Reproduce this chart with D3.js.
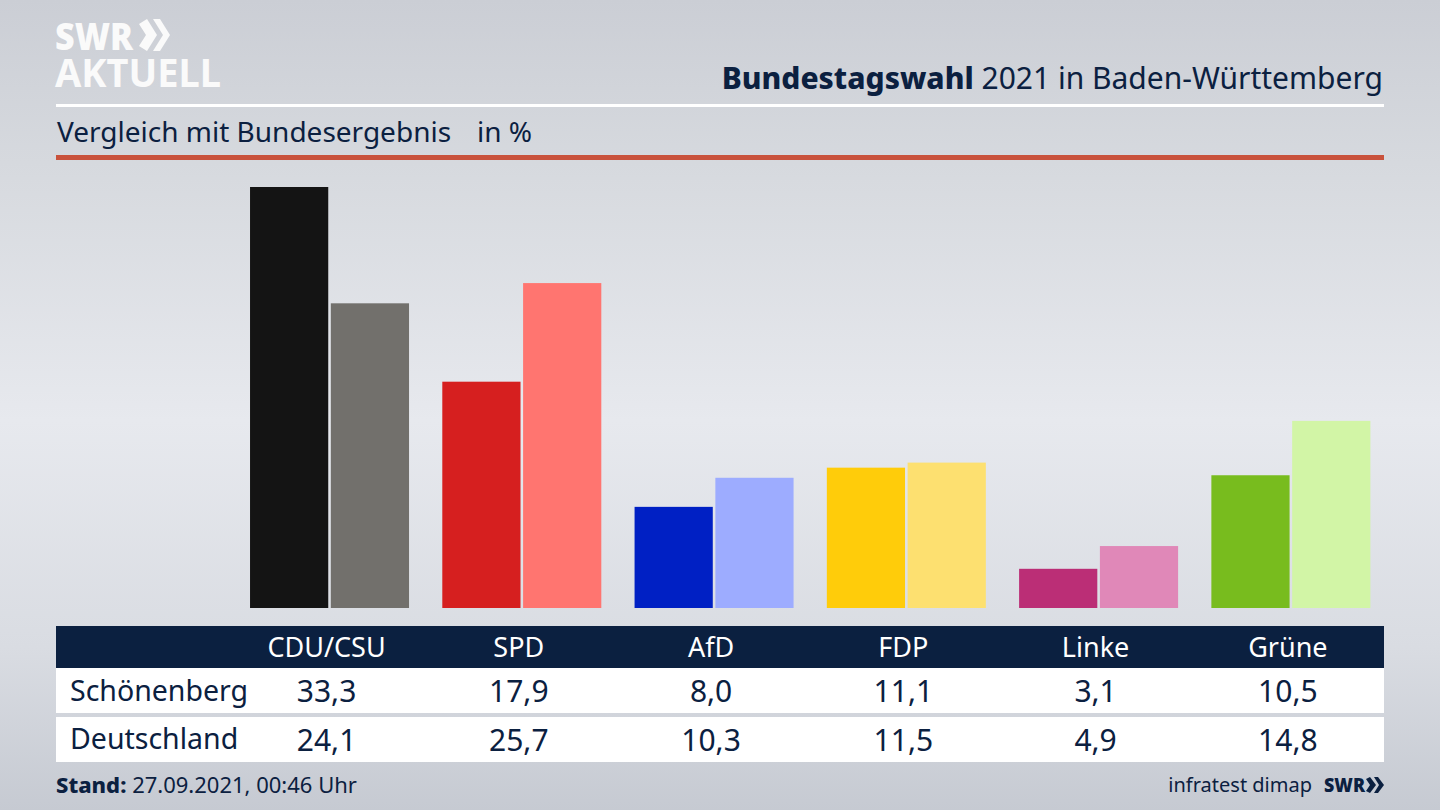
<!DOCTYPE html>
<html><head><meta charset="utf-8">
<script src="https://cdnjs.cloudflare.com/ajax/libs/d3/7.8.5/d3.min.js"></script>
<style>html,body{margin:0;padding:0;overflow:hidden;background:#d8dbe0}svg{display:block}text{font-family:"Noto Sans","Open Sans",sans-serif;fill:#0b2040}</style>
</head><body><svg id="c" width="1440" height="810"></svg>
<script>
const parties=["CDU/CSU","SPD","AfD","FDP","Linke","Grüne"];
const regions=["Schönenberg","Deutschland"];
const schoenenberg=[33.3,17.9,8.0,11.1,3.1,10.5];
const deutschland=[24.1,25.7,10.3,11.5,4.9,14.8];
const colorsLocal=["#141414","#d61f1f","#0020c4","#ffcc0a","#bb2e76","#78bc1e"];
const colorsNational=["#72706c","#ff7570","#9dacff","#fde070","#e088b8","#d2f5a6"];
const fmt=v=>v.toFixed(1).replace(".",",");
const NAVY="#0b2040";
const svg=d3.select("#c");
const defs=svg.append("defs");
const g=defs.append("linearGradient").attr("id","bg").attr("x1",0).attr("y1",0).attr("x2",0).attr("y2",1);
[[0,"#cbced5"],[0.2,"#d6d9de"],[0.52,"#e7e9ee"],[0.8,"#d9dce2"],[1,"#c6cad2"]].forEach(d=>g.append("stop").attr("offset",d[0]).attr("stop-color",d[1]));
svg.append("rect").attr("width",1440).attr("height",810).attr("fill","url(#bg)");

// logo
const logo=svg.append("g");
logo.append("text").attr("x",55).attr("y",50).attr("font-size",37).attr("font-weight",900).style("fill","#fafafa").attr("textLength",78).attr("lengthAdjust","spacingAndGlyphs").text("SWR");
const chev=(x,y,h,w,t)=>`M${x},${y}L${x+t},${y}L${x+t+w},${y+h/2}L${x+t},${y+h}L${x},${y+h}L${x+w},${y+h/2}Z`;
logo.append("path").attr("fill","#fafafa").attr("d",chev(138,19,33,16,-0)+"");
logo.append("path").attr("fill","#fafafa").attr("d",`M139,24L147,19L157,35L147,51L139,46L146,35ZM153,19L160,19L170,35L160,51L153,51L163,35Z`);
logo.selectAll("path").filter((d,i)=>i===0).remove();
logo.append("text").attr("x",55).attr("y",87).attr("font-size",39).attr("font-weight",700).style("fill","#fafafa").attr("textLength",166).attr("lengthAdjust","spacingAndGlyphs").text("AKTUELL");

// header
const title=svg.append("text").attr("x",1383).attr("y",89).attr("text-anchor","end").attr("font-size",30);
title.append("tspan").attr("font-weight",800).text("Bundestagswahl");
title.append("tspan").text(" 2021 in Baden-Württemberg");
svg.append("rect").attr("x",56).attr("y",104).attr("width",1328).attr("height",3).attr("fill","#fff");
const sub=svg.append("text").attr("x",57).attr("y",142).attr("font-size",28);
sub.append("tspan").text("Vergleich mit Bundesergebnis");
sub.append("tspan").attr("x",477).text("in %");
svg.append("rect").attr("x",56).attr("y",155).attr("width",1328).attr("height",5).attr("fill","#c9523c");

// scales
const x0=d3.scaleBand().domain(parties).range([233.4,1387]);
const x1=d3.scaleBand().domain([0,1]).range([-79.5,79.5]).paddingInner(0.032);
const y=d3.scaleLinear().domain([0,33.3]).range([608,187]);
const groups=svg.append("g").selectAll("g").data(parties).join("g").attr("transform",d=>`translate(${x0(d)+x0.bandwidth()/2},0)`);
groups.selectAll("rect").data((d,i)=>[{v:schoenenberg[i],c:colorsLocal[i],s:0},{v:deutschland[i],c:colorsNational[i],s:1}]).join("rect")
 .attr("x",d=>x1(d.s)).attr("width",x1.bandwidth()).attr("y",d=>y(d.v)).attr("height",d=>y(0)-y(d.v)).attr("fill",d=>d.c);

// table
const tx=d=>x0(d)+x0.bandwidth()/2-3;
svg.append("rect").attr("x",56).attr("y",626).attr("width",1328).attr("height",42).attr("fill",NAVY);
svg.append("rect").attr("x",56).attr("y",668).attr("width",1328).attr("height",45).attr("fill","#fff");
svg.append("rect").attr("x",56).attr("y",717).attr("width",1328).attr("height",45).attr("fill","#fff");
svg.append("g").selectAll("text").data(parties).join("text").attr("x",tx).attr("y",657).attr("text-anchor","middle").attr("font-size",27).style("fill","#fff").text(d=>d);
[[schoenenberg,702],[deutschland,751]].forEach(([arr,yy],r)=>{
 svg.append("text").attr("x",70).attr("y",r?749:701).attr("font-size",28.5).text(regions[r]);
 svg.append("g").selectAll("text").data(arr).join("text").attr("x",(d,i)=>tx(parties[i])).attr("y",yy).attr("text-anchor","middle").attr("font-size",30).text(fmt);
});

// footer
const st=svg.append("text").attr("x",56).attr("y",793).attr("font-size",22);
st.append("tspan").attr("font-weight",800).text("Stand:");
st.append("tspan").text(" 27.09.2021, 00:46 Uhr");
svg.append("text").attr("x",1312).attr("y",792).attr("text-anchor","end").attr("font-size",20).text("infratest dimap");
svg.append("text").attr("x",1324).attr("y",792).attr("font-size",20).attr("font-weight",900).attr("textLength",41).attr("lengthAdjust","spacingAndGlyphs").text("SWR");
svg.append("path").attr("fill",NAVY).attr("d","M1366,779L1370,777L1376,785L1370,793L1366,791L1370,785ZM1374,777L1378,777L1384,785L1378,793L1374,793L1379,785Z");
</script></body></html>
